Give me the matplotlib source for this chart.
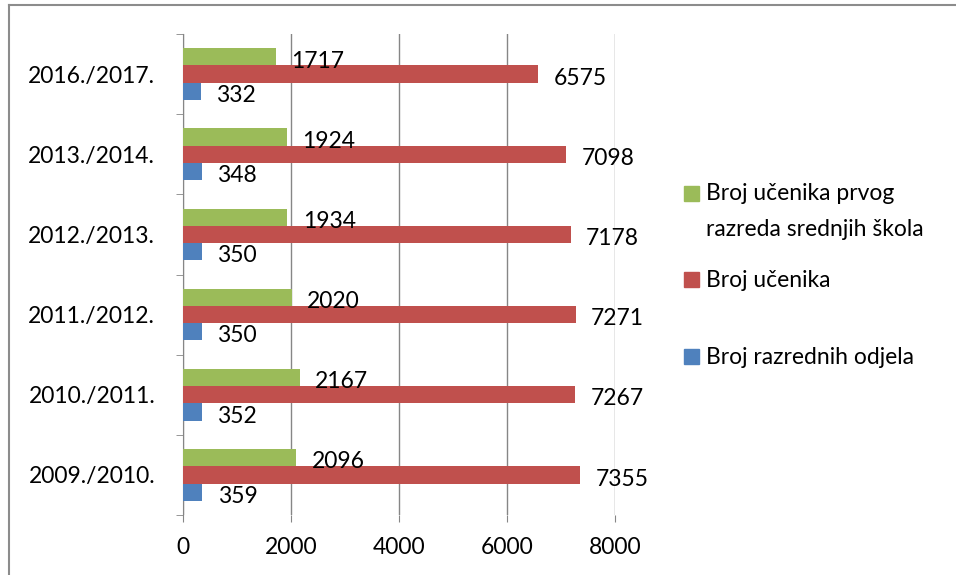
import numpy as np
import matplotlib
matplotlib.use("Agg")
import matplotlib.pyplot as plt
from matplotlib.lines import Line2D
from matplotlib.patches import Rectangle

years = ["2009./2010.", "2010./2011.", "2011./2012.", "2012./2013.", "2013./2014.", "2016./2017."]
first_grade = [2096, 2167, 2020, 1934, 1924, 1717]
students = [7355, 7267, 7271, 7178, 7098, 6575]
classes = [359, 352, 350, 350, 348, 332]

labels = [["Broj učenika prvog", "razreda srednjih škola"], ["Broj učenika"], ["Broj razrednih odjela"]]
colors = ["#9BBB59", "#C0504D", "#4F81BD"]

plt.rcParams["font.family"] = ["Lato", "DejaVu Sans"]
fs = 16.5

fig = plt.figure(figsize=(9.56, 5.75), dpi=100)
W, H = 956, 575
ax = fig.add_axes([183 / W, 60 / H, (615 - 183) / W, (515 - 34) / H])

y = np.arange(len(years))
h = 0.215
series = [first_grade, students, classes]
offsets = [h, 0, -h]
for vals, off, col in zip(series, offsets, colors):
    bars = ax.barh(y + off, vals, height=h, color=col, zorder=3)
    for b, v in zip(bars, vals):
        ax.annotate(str(v), (v, b.get_y() + b.get_height() / 2),
                    xytext=(11, -3), textcoords="offset points",
                    ha="left", va="center", fontsize=fs, zorder=4)

ax.set_xlim(0, 8000)
ax.set_ylim(-0.5, len(years) - 0.5)
ax.set_xticks([0, 2000, 4000, 6000, 8000])
ax.set_yticks(y)
ax.set_yticklabels(years, fontsize=fs)
ax.set_yticks(np.arange(-0.5, len(years), 1), minor=True)
ax.tick_params(axis="y", which="major", length=0, pad=20)
ax.tick_params(axis="y", which="minor", length=5, color="#868686", direction="out")
ax.tick_params(axis="x", length=5, color="#868686", direction="out", pad=11, labelsize=fs)
ax.grid(axis="x", color="#868686", linewidth=1, zorder=0)
for s in ["top", "right", "bottom"]:
    ax.spines[s].set_visible(False)
ax.spines["left"].set_color("#868686")

# legend
leg_y = [194, 280, 357]
for lines, col, yy in zip(labels, colors, leg_y):
    fig.add_artist(Rectangle((684 / W, 1 - (yy + 7) / H), 15 / W, 15 / H,
                             color=col, transform=fig.transFigure))
    for i, t in enumerate(lines):
        fig.text(706 / W, 1 - (yy + 36 * i) / H, t, fontsize=fs, va="center", ha="left")

fig.add_artist(Line2D([9 / W, 1], [1 - 5 / H, 1 - 5 / H], color="#8c8c8c", lw=1.5))
fig.add_artist(Line2D([9 / W, 9 / W], [0, 1 - 5 / H], color="#8c8c8c", lw=1.5))

fig.savefig("out.png", dpi=100)
